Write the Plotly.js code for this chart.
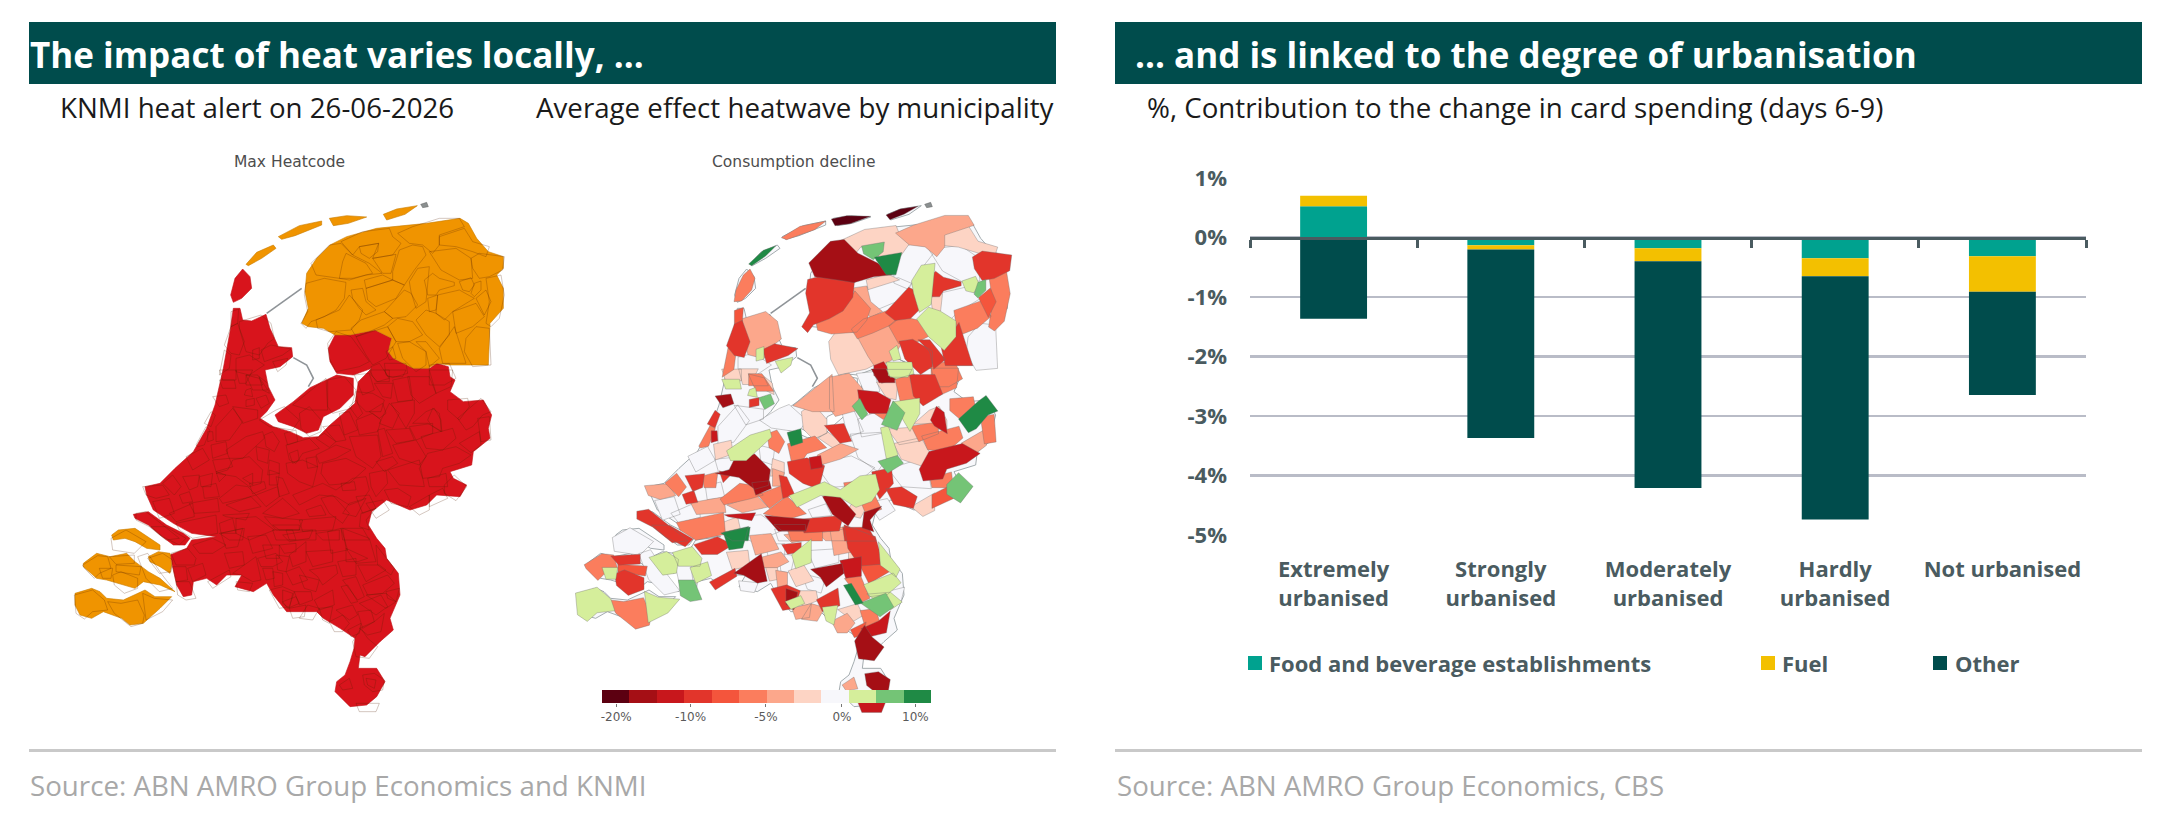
<!DOCTYPE html>
<html>
<head>
<meta charset="utf-8">
<script src="https://cdn.plot.ly/plotly-3.0.1.min.js"></script>
<style>html,body{margin:0;padding:0;background:#fff}</style>
</head>
<body>
<div id="plot" style="width:2167px;height:816px"></div>
<script>
const W = 2167, H = 816;

// bar chart data
const categories = ["Extremely<br>urbanised", "Strongly<br>urbanised", "Moderately<br>urbanised", "Hardly<br>urbanised", "Not urbanised"];
const food = [0.525, -0.13, -0.18, -0.35, -0.315];
const fuel = [0.175, -0.07, -0.22, -0.30, -0.595];
const other = [-1.366, -3.17, -3.81, -4.09, -1.735];
const yTicks = [1, 0, -1, -2, -3, -4, -5];

// colour scale of the municipality map
const scaleColors = ["#5c0011", "#a50f15", "#c8171c", "#e2352b", "#f4553c", "#fb7d5d", "#fca78b", "#fdd4c4", "#f7f7fb", "#d5ee9b", "#74c476", "#1f8a45"];
const scaleTickPos = [0.02, 2.73, 5.48, 8.25, 10.93];
const scaleTickText = ["-20%", "-10%", "-5%", "0%", "10%"];

// map outlines (map units, y down)
const redMainland = [520,340,540,340,548,375,575,378,618,358,630,400,655,455,695,458,698,485,660,515,615,525,625,575,645,615,620,650,600,670,640,695,690,710,730,728,775,725,810,690,885,625,895,560,935,520,905,530,880,540,830,535,810,500,805,460,825,420,870,420,945,405,995,430,985,470,1000,490,1060,520,1110,520,1130,505,1165,515,1170,545,1185,555,1170,590,1210,620,1270,615,1295,660,1285,700,1290,730,1240,770,1235,810,1170,830,1180,850,1220,870,1200,905,1130,900,1100,930,1050,945,980,915,935,950,925,990,950,1030,975,1060,980,1090,1015,1135,1020,1200,990,1270,1000,1305,960,1340,915,1385,900,1380,895,1420,950,1420,975,1460,950,1505,920,1530,870,1535,825,1490,830,1460,855,1440,870,1400,882,1360,885,1330,840,1300,790,1270,770,1250,680,1250,640,1200,620,1165,580,1190,525,1175,545,1140,500,1140,470,1170,440,1150,400,1160,395,1200,370,1205,350,1170,330,1080,380,1060,395,1035,470,1025,395,1015,340,985,280,945,260,900,255,875,300,865,345,820,400,770,440,700,465,630,490,520,510,410];
const flevoland = [645,660,700,620,750,578,830,540,880,550,880,600,840,640,790,665,775,705,740,715,700,695,655,680];
const texel = [548,222,570,245,575,280,545,310,520,322,512,300,525,250];
const goeree = [220,958,265,950,320,990,370,1015,390,1030,375,1050,340,1050,300,1020,265,990,225,970];
const orangeNorth = [740,235,770,190,810,150,860,125,950,100,1000,95,1100,85,1200,70,1225,85,1250,130,1285,170,1330,185,1330,220,1310,240,1330,280,1330,340,1290,385,1285,510,1170,510,1130,505,1105,520,1060,520,1000,490,985,470,995,430,945,405,870,420,825,420,790,400,745,395,725,385,745,340,735,290];
const schouwen = [155,1020,175,1005,225,1000,255,1020,300,1050,300,1065,260,1060,225,1040,195,1030,160,1035];
const beveland = [70,1105,110,1075,150,1085,200,1075,225,1100,265,1130,300,1150,345,1190,300,1170,250,1160,225,1180,170,1165,140,1155,110,1150,70,1115];
const tholen = [265,1085,295,1070,330,1075,335,1110,330,1135,300,1115,270,1100];
const zeeuwsVlaanderen = [45,1195,95,1180,120,1190,140,1210,190,1215,255,1185,285,1205,335,1205,300,1240,250,1285,210,1290,185,1270,130,1250,95,1270,60,1260,45,1230];
const vlieland = [558,208,590,172,640,150,648,160,605,190,565,212];
const terschelling = [655,125,718,92,785,78,785,90,705,122,665,133];
const ameland = [808,70,860,62,920,66,865,85,820,92];
const schiermonnikoog = [970,58,1010,42,1072,32,1035,58,980,75];
const rottum = [1082,28,1100,22,1105,35,1088,38];
const afsluitdijk = [620,355,725,280];
const houtribdijk = [700,488,740,510,760,550,745,575];

// municipality patches: [colour class, x, y, x, y, ...] in three zoomed sheets
const northCells = [
  [11,146,207,190,166,228,152,196,184,155,212],[5,244,128,300,94,378,78,344,104,260,134],[0,394,72,440,62,512,64,450,86,405,92],[0,558,60,600,42,654,34,612,58,570,74],
  [5,150,222,165,250,155,285,125,318,102,320,108,285,130,240],
  [1,345,205,400,150,435,145,470,180,520,205,558,235,510,240,460,255,430,250,360,240],[2,450,175,510,205,530,235,470,250,430,250,440,200],
  [3,330,265,385,250,450,262,445,310,420,345,385,365,345,380,330,400,315,385,335,350,325,300],
  [10,490,155,548,145,545,170,520,190,495,175],[11,530,190,600,178,585,235,560,235],
  [7,435,140,500,110,580,100,590,125,615,145,590,180,530,190,548,145,490,155,470,180],
  [6,605,115,650,95,730,70,790,70,805,95,730,120,730,150,710,175,680,150,640,145],
  [7,730,125,805,100,830,140,880,155,870,185,830,170,780,155,730,150],
  [8,590,230,610,165,650,150,680,155,690,180,655,225,625,270,590,255],[8,700,170,780,160,825,190,830,250,790,255,735,225],
  [3,825,190,850,175,925,185,920,225,880,245,850,250,830,220],[5,870,250,915,240,925,300,910,370,885,395,870,385,880,320],
  [4,840,310,870,285,885,320,865,360],[9,790,260,825,248,835,270,820,290,800,285],[10,835,265,855,258,855,285,835,305,825,295],
  [5,770,350,840,325,865,365,830,395,780,415],[8,810,430,840,395,880,400,885,510,830,515,805,470],[8,725,300,790,285,835,310,770,350,745,375,720,355],
  [9,640,260,665,220,700,215,695,260,690,320,660,340,645,290],[9,660,375,690,345,720,355,760,380,760,420,730,455,690,420],
  [3,685,255,710,235,730,250,775,262,775,272,730,285,720,300,695,300],[7,695,310,725,300,720,345,700,350],
  [3,565,350,625,285,645,295,665,330,630,365,590,370],[6,465,285,500,280,510,320,540,345,510,360,490,340,470,310],
  [8,510,280,590,255,625,270,600,310,540,335,515,315],[7,505,255,560,240,590,255,510,280],
  [5,360,375,430,345,460,300,500,345,490,375,465,405,400,410,365,400],[5,465,400,495,375,565,350,590,370,565,390,520,410,480,425],
  [6,480,425,575,395,600,440,570,490,530,510,510,480],[5,575,395,605,370,650,380,680,420,640,440,600,440],
  [3,605,445,640,440,690,470,690,510,660,530,620,490],[3,660,440,690,440,730,490,700,515,690,470],[3,730,460,775,395,810,505,740,505],
  [5,700,510,760,505,780,550,745,570,700,570],[7,395,445,420,410,465,425,520,500,490,515,420,530,400,490],
  [9,565,505,630,505,635,535,590,548,570,540],[9,570,470,590,455,600,490,580,495],[2,525,515,550,505,580,550,545,560,525,540],
  [4,105,350,128,342,125,385,105,395],[3,105,395,125,385,145,440,130,480,105,475,85,450],[6,130,380,195,360,225,385,235,430,215,445,190,480,150,470,130,400],
  [3,195,465,225,450,285,462,260,480,205,500],[9,170,465,190,458,190,490,170,495],[9,230,500,275,490,270,510,245,530],
  [5,70,540,85,465,105,480,100,520],[8,120,490,160,480,205,510,160,540,120,530],[5,150,540,190,550,200,570,150,570]
];
const middleCells = [
  [6,470,105,570,25,575,120,520,120],[6,575,30,625,20,660,60,645,115,590,130,575,110],[7,490,130,520,110,555,150,555,185,520,200,495,175],
  [1,230,80,270,75,278,100,250,110],[3,330,90,355,85,355,105,330,110],[10,360,85,390,75,400,100,375,115],[9,330,60,345,55,350,80,325,75],[9,250,30,295,30,300,55,260,55],[5,330,15,365,15,395,60,350,60],
  [3,205,160,225,125,238,135,225,170],[2,215,185,230,185,232,210,215,215],[5,180,225,210,170,222,180,205,225,185,230],
  [8,240,170,290,115,320,155,280,210,240,215],[8,290,110,365,120,365,145,320,160],[8,370,150,420,120,445,110,490,150,470,180,400,170],
  [9,270,240,330,200,380,185,385,205,320,265,280,265],[5,385,195,410,185,430,215,415,245,390,230],[11,445,190,480,180,485,215,455,225],
  [5,450,225,520,205,550,235,500,250,480,280,460,270],[7,460,250,485,240,490,270,470,280],[6,540,255,600,225,645,240,600,265,550,280],
  [7,540,205,565,190,600,215,580,232],[3,560,170,610,165,630,210,600,215],[2,660,65,710,70,745,90,735,125,690,125,665,100],[5,700,125,740,100,750,130,730,145],
  [10,640,110,660,90,680,130,665,145],[10,730,160,760,100,790,130,770,175],[9,725,180,745,175,770,250,740,260],[9,765,100,835,90,835,130,810,175],
  [8,610,130,640,125,665,180,625,195],[8,660,150,710,130,735,150,725,185,670,195],[8,640,200,725,195,735,260,710,295,660,260],[8,560,280,630,265,690,295,640,340,580,345,555,310],
  [10,720,275,770,260,785,280,745,305],[7,750,180,820,175,835,210,780,220],[7,770,225,840,210,870,260,850,285,790,265],[5,820,170,890,160,890,190,840,210],
  [7,830,160,870,125,895,115,915,150,915,185,875,160],[2,875,150,890,115,910,130,918,185,885,165],[5,855,200,950,175,960,205,920,240,870,235],
  [5,935,90,995,85,1000,110,970,150,935,120],[11,965,145,1015,100,1035,85,1065,125,1040,135,1010,170,990,180],[5,1025,145,1060,140,1065,210,1035,215],[6,970,220,1030,185,1035,225,1005,248],
  [2,850,295,875,250,960,230,1005,255,970,280,920,295,910,320,860,325],[5,875,325,930,310,935,350,880,350],[10,925,345,955,315,992,350,960,392,925,370],[4,880,375,920,355,935,385,880,410],
  [8,755,300,850,270,865,350,790,345],[3,700,310,750,300,755,340,720,380,705,350],[3,745,360,785,355,825,380,815,410,765,400],
  [9,470,375,520,355,560,340,600,360,650,325,690,320,700,360,680,390,640,405,600,380,550,375,490,405],[5,615,340,655,335,660,360,620,362],
  [1,240,310,275,300,290,270,340,260,380,300,375,340,340,350,300,320],[4,320,325,350,310,350,345],[1,340,340,385,335,390,355,350,372],
  [5,250,385,300,345,335,350,360,375,325,385,260,400],[5,360,375,425,350,430,380,390,410],[3,420,320,440,325,460,370,430,380],
  [3,450,280,500,270,545,290,530,350,490,335,455,310],[2,510,265,540,260,545,290,515,295],[6,270,405,345,380,375,410,310,425],[5,380,430,440,385,490,430,440,445],
  [1,385,440,440,445,500,450,490,480,420,480],[3,490,450,600,440,590,480,500,485],[1,555,385,590,375,640,430,620,460,580,430],[8,510,420,555,405,570,435,520,440],
  [5,660,380,700,375,720,415,680,430],[1,675,430,720,415,690,450,700,480,670,470],[5,120,460,240,435,245,490,170,505,130,480],[3,0,430,30,425,80,465,130,505,90,510,40,470,0,450],
  [6,20,350,80,345,100,375,60,385,30,375],[5,80,340,110,315,135,350,115,375],[3,140,320,190,315,185,350,160,360],[3,130,375,160,365,170,395,140,400],[8,50,395,100,385,115,430,70,445],
  [8,230,270,280,265,290,290,240,305],[3,240,305,270,315,250,335],[2,260,435,340,430,330,450,270,440],[7,250,460,290,445,300,490,255,490],[8,300,445,360,440,415,480,340,510,300,490],
  [11,250,490,325,475,320,510,280,510],[3,615,475,680,475,700,510,620,510],
  [7,225,225,270,215,275,250,230,265],[8,150,260,200,235,220,270,170,300],[5,190,320,230,310,225,350,195,350],[8,200,350,240,340,250,380,205,385],[6,160,400,245,385,250,425,175,430],[8,100,430,170,400,175,440,120,455],
  [7,400,270,430,280,430,310,395,315],[8,360,230,400,240,395,280,365,270],[6,400,300,430,310,425,345,400,345],[8,690,400,740,390,760,420,720,445],[7,640,400,690,385,660,440,620,430],[7,820,410,880,375,880,420,850,435],
  [8,410,480,470,480,480,510,420,510],[5,450,480,540,480,540,510,460,510],[6,540,490,610,480,610,510,560,510],
  [5,770,30,820,20,830,90,785,95],[3,815,20,880,20,900,70,850,100,825,75],[5,880,0,950,0,945,50,900,70],[1,700,0,760,0,760,35,720,35],[9,745,0,810,0,800,20,755,20],[8,655,15,700,10,715,60,680,75],[7,715,40,770,40,765,85,740,80],
  [7,250,0,300,0,300,30,260,30],[7,300,0,350,0,330,40,310,40],[7,370,20,395,40,400,70,380,60]
];
const southCells = [
  [5,50,120,95,92,125,95,135,130,100,145,85,160,55,130],[3,130,95,205,90,205,115,150,118],[4,150,120,225,125,220,150,150,140],[3,140,150,165,140,215,160,215,190,175,205,145,180],[9,100,130,140,130,135,160,110,160],
  [8,135,40,180,15,240,50,205,85,140,75],[8,215,95,245,85,285,145,320,190,280,200,240,160],[8,320,125,360,125,365,165,330,170],
  [9,245,100,290,85,320,105,315,140,280,145],[9,315,85,365,70,390,100,385,120,330,120],[9,365,130,410,115,420,150,380,170],[10,330,170,370,170,390,220,360,225,335,210],
  [9,25,210,80,195,115,225,125,255,80,260,55,282,30,265],[5,125,230,165,235,215,225,235,270,230,295,195,305,170,285,145,265],[9,230,205,265,220,320,225,290,260,240,285],
  [3,255,5,300,5,360,40,340,60,290,35],[3,380,60,440,40,480,60,440,85,400,85],[11,465,25,530,10,515,65,480,70],[7,475,85,530,80,535,120,490,130],[3,425,170,490,135,495,155,440,190],
  [1,500,145,570,95,585,165,560,170,525,150],[6,575,100,630,85,650,110,620,125,585,125],[3,640,60,690,55,690,80,655,85],[3,610,195,650,185,685,200,670,245,640,250],[1,650,195,680,205,670,250,650,235],
  [1,730,135,810,120,815,145,770,180,755,155],[2,815,110,870,100,870,150,830,155],[3,830,10,910,40,930,110,870,115,840,70],[4,875,120,940,120,960,135,900,170],[9,890,180,965,150,985,175,950,205,905,210],
  [11,825,185,845,180,875,230,855,235],[10,880,235,945,210,965,245,930,270],[3,745,225,800,195,805,240,760,255],[5,830,165,870,155,895,215,875,225],[5,875,260,915,255,925,290,890,310],[4,845,315,885,295,880,325,855,335],
  [2,880,310,925,290,955,265,945,320,905,330],[1,860,350,885,310,905,340,935,365,910,400,870,395],[6,790,290,830,270,850,295,830,320,805,320],[7,810,255,860,240,875,270,850,285],[6,670,250,720,240,715,275,680,280],
  [6,620,140,650,145,650,180,625,185],[9,670,90,720,50,720,110,680,125],[6,650,30,740,15,730,40,670,50],[6,785,20,825,10,845,75,795,85],[9,760,250,800,245,790,295,770,285],
  [6,820,480,850,460,860,490,830,495],[1,890,450,925,445,955,465,950,495,920,500,895,480],[4,900,460,930,465,925,490,905,480],[2,870,535,940,535,930,560,880,560],[8,720,80,800,75,800,110,740,125],[1,620,0,700,0,700,15,640,15],
  [6,545,35,600,30,620,70,560,85],[8,590,60,640,60,640,100,600,100],[8,630,90,670,95,660,140,635,135],[7,660,140,700,125,725,165,680,180],[8,700,150,760,165,750,200,715,190],[7,685,200,735,200,740,225,700,240],[6,725,240,760,250,740,285,700,280],[9,650,230,690,215,700,235,665,250],[7,840,70,905,100,875,110,840,110],
  [7,590,130,620,130,625,160,600,165],[9,900,210,960,205,990,230,960,250],[9,930,60,985,130,975,150,935,120],[8,960,200,1000,190,990,230,965,220],[8,510,170,560,175,550,200,515,195]
];
const sheetOrigins = [[northCells, 408, 0], [middleCells, 228, 525], [southCells, 18, 990]];

function fx(px) { return px / W; }
function fy(py) { return 1 - py / H; }

// merge flat [x,y,x,y..] polygons into one trace, split by nulls
function polyTrace(polys, fillColor, lineColor, lineWidth, xa, ya) {
  const x = [], y = [];
  polys.forEach(p => {
    for (let i = 0; i < p.length; i += 2) { x.push(p[i]); y.push(p[i + 1]); }
    x.push(p[0]); y.push(p[1]);
    x.push(null); y.push(null);
  });
  return { x, y, xaxis: xa, yaxis: ya, type: "scatter", mode: "lines", fill: fillColor ? "toself" : "none", fillcolor: fillColor || undefined,
    line: { color: lineColor, width: lineWidth }, hoverinfo: "skip", showlegend: false };
}

// patches moved from sheet units to map units
const cells = [];
sheetOrigins.forEach(([sheet, dx, dy]) => {
  sheet.forEach(c => {
    const pts = c.slice(1).map((v, i) => i % 2 === 0 ? v + dx : v + dy);
    cells.push({ cls: c[0], pts });
  });
});

// patches were traced a little inside their borders, widen them to close the gaps
function widen(pts, k) {
  let cx = 0, cy = 0;
  const n = pts.length / 2;
  for (let i = 0; i < pts.length; i += 2) { cx += pts[i] / n; cy += pts[i + 1] / n; }
  return pts.map((v, i) => i % 2 === 0 ? cx + (v - cx) * k : cy + (v - cy) * k);
}

const redParts = [redMainland, flevoland, texel, goeree];
const orangeParts = [orangeNorth, schouwen, beveland, tholen, zeeuwsVlaanderen, vlieland, terschelling, ameland, schiermonnikoog];
const allParts = redParts.concat(orangeParts);
const dikes = [afsluitdijk, houtribdijk];

function dikeTrace(xa, ya) {
  const x = [], y = [];
  dikes.forEach(d => {
    for (let i = 0; i < d.length; i += 2) { x.push(d[i]); y.push(d[i + 1]); }
    x.push(null); y.push(null);
  });
  return { x, y, xaxis: xa, yaxis: ya, type: "scatter", mode: "lines", line: { color: "#8f9498", width: 1.6 }, hoverinfo: "skip", showlegend: false };
}

const traces = [];
const barColors = { food: "#00a28f", fuel: "#f3c000", other: "#004c4c" };
[["Food and beverage establishments", food, barColors.food], ["Fuel", fuel, barColors.fuel], ["Other", other, barColors.other]].forEach(([name, vals, col]) => {
  traces.push({ type: "bar", name, x: categories, y: vals, marker: { color: col, line: { width: 0 } }, hoverinfo: "skip", showlegend: false });
});
// carries the zero axis with its ticks
traces.push({ type: "scatter", x: categories, y: categories.map(() => 0), xaxis: "x2", yaxis: "y", mode: "none", hoverinfo: "skip", showlegend: false });

// left map
traces.push(polyTrace(redParts, "#d8141c", "#c01218", 0.6, "x3", "y3"));
traces.push(polyTrace(orangeParts, "#f09400", "#c87c00", 0.6, "x3", "y3"));
const innerCells = cells.slice(5);
traces.push(polyTrace(innerCells.map(c => c.pts), null, "rgba(85,30,0,0.36)", 0.7, "x3", "y3"));
traces.push(dikeTrace("x3", "y3"));
traces.push(polyTrace([rottum], "#8a8f90", "#666", 0.5, "x3", "y3"));

// right map: palest classes first so that the dark patches end on top
traces.push(polyTrace(allParts, "#f8f8fb", "#9aa3a6", 0.9, "x4", "y4"));
traces.push(dikeTrace("x4", "y4"));
traces.push(polyTrace([rottum], "#8a8f90", "#666", 0.5, "x4", "y4"));
[8, 7, 6, 5, 4, 3, 2, 1, 0, 9, 10, 11].forEach(k => {
  const polys = cells.filter(c => c.cls === k).map(c => innerCells.includes(c) ? widen(c.pts, 1.18) : c.pts);
  traces.push(polyTrace(polys, scaleColors[k], "rgba(110,110,110,0.5)", 0.7, "x4", "y4"));
});

// colour scale
traces.push({ type: "heatmap", z: [scaleColors.map((c, i) => i)], x: scaleColors.map((c, i) => i), y: [0], xaxis: "x5", yaxis: "y5", showscale: false, hoverinfo: "skip",
  zmin: 0, zmax: scaleColors.length - 1,
  colorscale: scaleColors.map((c, i) => [i / (scaleColors.length - 1), c]) });

const slate = "#4a5b60";
const mainFont = "'Open Sans', sans-serif";

function label(text, px, py, size, color, bold, anchor) {
  return { text: bold ? "<b>" + text + "</b>" : text, xref: "paper", yref: "paper", x: fx(px), y: fy(py), xanchor: anchor || "left", yanchor: "middle",
    showarrow: false, font: { family: mainFont, size, color } };
}
function box(x0, y0, x1, y1, color) {
  return { type: "rect", xref: "paper", yref: "paper", x0: fx(x0), x1: fx(x1), y0: fy(y0), y1: fy(y1), fillcolor: color, line: { width: 0 }, layer: "below" };
}

const annotations = [
  label("The impact of heat varies locally, ...", 28, 55, 35, "#ffffff", true),
  label("... and is linked to the degree of urbanisation", 1133, 55, 35, "#ffffff", true),
  label("KNMI heat alert on 26-06-2026", 58, 107, 27.7, "#1a1a1a"),
  label("Average effect heatwave by municipality", 1056, 107, 27.7, "#1a1a1a", false, "right"),
  label("%, Contribution to the change in card spending (days 6-9)", 1145, 107, 27.7, "#1a1a1a"),
  label("Source: ABN AMRO Group Economics and KNMI", 28, 785, 27.7, "#a8a8a8"),
  label("Source: ABN AMRO Group Economics, CBS", 1115, 785, 27.7, "#a8a8a8"),
  label("Food and beverage establishments", 1267, 663, 22, slate, true),
  label("Fuel", 1780, 663, 22, slate, true),
  label("Other", 1953, 663, 22, slate, true)
];
annotations.push(Object.assign(label("Max Heatcode", 289, 162, 15.5, "#4d4d4d", false, "center"), { font: { family: "DejaVu Sans", size: 15.5, color: "#4d4d4d" } }));
annotations.push(Object.assign(label("Consumption decline", 793, 162, 15.5, "#4d4d4d", false, "center"), { font: { family: "DejaVu Sans", size: 15.5, color: "#4d4d4d" } }));

const shapes = [
  box(29, 22, 1056, 84, "#004c4c"), box(1115, 22, 2142, 84, "#004c4c"),
  box(29, 749, 1056, 752, "#c9c9c9"), box(1115, 749, 2142, 752, "#c9c9c9"),
  box(1248, 656, 1262, 670, barColors.food), box(1761, 656, 1775, 670, barColors.fuel), box(1933, 656, 1947, 670, barColors.other)
];

const hidden = { visible: false, fixedrange: true };
const layout = {
  width: W, height: H, margin: { l: 0, r: 0, t: 0, b: 0 }, paper_bgcolor: "#fff", plot_bgcolor: "rgba(0,0,0,0)",
  barmode: "relative", bargap: 0.6, showlegend: false, font: { family: mainFont }, annotations, shapes,
  xaxis: { domain: [fx(1250), fx(2086)], anchor: "y", type: "category", showline: false, ticks: "", ticklabelstandoff: 19, showgrid: false, zeroline: false,
    tickfont: { family: mainFont, size: 22, color: slate, weight: 700 } },
  xaxis2: { overlaying: "x", matches: "x", anchor: "free", position: fy(237.5), type: "category", showticklabels: false, showline: true, linecolor: slate, linewidth: 3.5,
    ticks: "outside", tickson: "boundaries", ticklen: 8, tickwidth: 3, tickcolor: slate, showgrid: false, zeroline: false },
  yaxis: { domain: [fy(535), fy(178)], range: [-5, 1], anchor: "x", tickvals: yTicks, ticktext: yTicks.map(v => v + "%"), ticks: "", ticklabelstandoff: 22,
    showgrid: true, gridcolor: "#b9bcc7", gridwidth: 2.5, zeroline: false, showline: false, tickfont: { family: mainFont, size: 22, color: slate, weight: 700 } },
  xaxis3: Object.assign({ domain: [fx(60), fx(520)], range: [0, 1380], anchor: "y3" }, hidden),
  yaxis3: Object.assign({ domain: [fy(720), fy(195)], range: [1575, 0], anchor: "x3" }, hidden),
  xaxis4: Object.assign({ domain: [fx(564), fx(1024)], range: [0, 1380], anchor: "y4" }, hidden),
  yaxis4: Object.assign({ domain: [fy(720), fy(195)], range: [1575, 0], anchor: "x4" }, hidden),
  xaxis5: { domain: [fx(602), fx(931)], range: [-0.5, 11.5], anchor: "y5", tickvals: scaleTickPos, ticktext: scaleTickText, ticks: "outside", ticklen: 3, tickcolor: "#777",
    showgrid: false, zeroline: false, showline: false, tickfont: { family: "DejaVu Sans", size: 12, color: "#5a5a5a" } },
  yaxis5: { domain: [fy(703), fy(690)], range: [-0.5, 0.5], anchor: "x5", visible: false }
};

Plotly.newPlot("plot", traces, layout, { displayModeBar: false, staticPlot: true });
</script>
</body>
</html>
